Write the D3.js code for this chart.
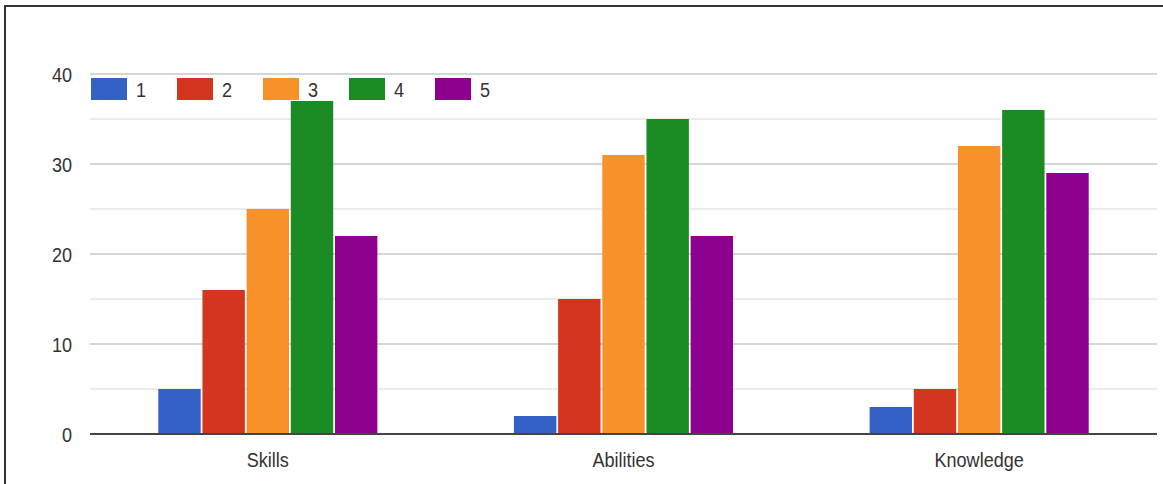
<!DOCTYPE html>
<html>
<head>
<meta charset="utf-8">
<script src="https://cdn.jsdelivr.net/npm/d3@7"></script>
<style>
  body { margin: 0; background: #fff; }
  svg text { font-family: "Liberation Sans", Arial, sans-serif; fill: #333; }
</style>
</head>
<body>
<div id="chart"></div>
<script>
// chart data
var categories = ['Skills', 'Abilities', 'Knowledge'];
var seriesNames = ['1', '2', '3', '4', '5'];
var seriesColors = ['#3361c6', '#d4351f', '#f9912a', '#1b8b23', '#8e008e'];
var values1 = [5, 2, 3];
var values2 = [16, 15, 5];
var values3 = [25, 31, 32];
var values4 = [37, 35, 36];
var values5 = [22, 22, 29];
var yTicks = [0, 10, 20, 30, 40];
var yMinorTicks = [5, 15, 25, 35];

var seriesValues = [values1, values2, values3, values4, values5];

var width = 1163, height = 484;
var plot = { left: 90, right: 1157, top: 74, bottom: 434 };
var textScale = 'scale(0.86,1)';

var svg = d3.select('#chart').append('svg')
    .attr('width', width)
    .attr('height', height);

// frame (top and left edges)
svg.append('path')
    .attr('d', 'M5,' + height + 'V6H' + width)
    .style('fill', 'none')
    .style('stroke', '#333')
    .style('stroke-width', 2);

// scales
var x0 = d3.scaleBand()
    .domain(categories)
    .range([plot.left, plot.right])
    .paddingInner(0.384)
    .paddingOuter(0.192);
var x1 = d3.scaleBand()
    .domain(seriesNames)
    .range([0, x0.bandwidth()])
    .paddingInner(0.04);
var y = d3.scaleLinear().domain([0, 40]).range([plot.bottom, plot.top]);

// gridlines
svg.append('g').selectAll('line.minor')
    .data(yMinorTicks).enter().append('line')
    .attr('x1', plot.left).attr('x2', plot.right)
    .attr('y1', function(d) { return y(d); })
    .attr('y2', function(d) { return y(d); })
    .style('stroke', '#ececec')
    .style('stroke-width', 2);
svg.append('g').selectAll('line.major')
    .data(yTicks.slice(1)).enter().append('line')
    .attr('x1', plot.left).attr('x2', plot.right)
    .attr('y1', function(d) { return y(d); })
    .attr('y2', function(d) { return y(d); })
    .style('stroke', '#d6d6d6')
    .style('stroke-width', 2);

// bars
for (var s = 0; s < seriesNames.length; s++) {
    svg.append('g').selectAll('rect')
        .data(categories).enter().append('rect')
        .attr('x', function(d) { return x0(d) + x1(seriesNames[s]); })
        .attr('y', function(d, i) { return y(seriesValues[s][i]); })
        .attr('width', x1.bandwidth())
        .attr('height', function(d, i) { return y(0) - y(seriesValues[s][i]); })
        .style('fill', seriesColors[s]);
}

// baseline
svg.append('line')
    .attr('x1', plot.left).attr('x2', plot.right)
    .attr('y1', y(0)).attr('y2', y(0))
    .style('stroke', '#444')
    .style('stroke-width', 2);

// y axis labels
var yAxis = svg.append('g')
    .attr('transform', 'translate(' + plot.left + ',0)')
    .call(d3.axisLeft(y).tickValues(yTicks).tickSize(0));
yAxis.select('.domain').remove();
yAxis.selectAll('text')
    .attr('x', 0)
    .attr('dy', '0.36em')
    .attr('transform', 'translate(-18,0) ' + textScale)
    .style('font-size', '21px')
    .style('font-family', '"Liberation Sans", Arial, sans-serif')
    .style('fill', '#333');

// x axis labels
var xAxis = svg.append('g')
    .attr('transform', 'translate(0,' + plot.bottom + ')')
    .call(d3.axisBottom(x0).tickSize(0));
xAxis.select('.domain').remove();
xAxis.selectAll('text')
    .attr('y', 0)
    .attr('dy', '0.36em')
    .attr('transform', 'translate(0,25) ' + textScale)
    .style('font-size', '21px')
    .style('font-family', '"Liberation Sans", Arial, sans-serif')
    .style('fill', '#333');

// legend
var legend = svg.append('g').attr('transform', 'translate(91,78)');
var items = legend.selectAll('g')
    .data(seriesNames).enter().append('g')
    .attr('transform', function(d, i) { return 'translate(' + (i * 86) + ',0)'; });
items.append('rect')
    .attr('width', 36).attr('height', 22)
    .style('fill', function(d, i) { return seriesColors[i]; });
items.append('text')
    .attr('transform', 'translate(45,11) ' + textScale)
    .attr('dy', '0.36em')
    .style('font-size', '21px')
    .text(function(d) { return d; });
</script>
</body>
</html>
